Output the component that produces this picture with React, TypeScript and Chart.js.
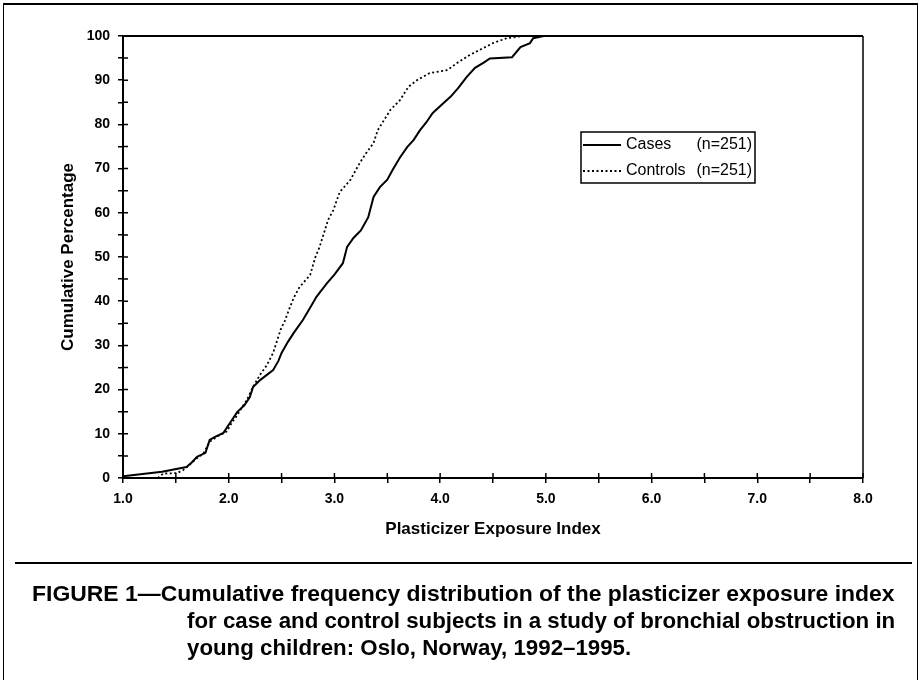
import React, { useEffect, useLayoutEffect, useRef } from "react";
import { Chart, registerables } from "chart.js";

Chart.register(...registerables);

// ---------- data ----------
const casesX = [1.0, 1.37, 1.6, 1.65, 1.7, 1.78, 1.82, 1.87, 1.95, 2.01, 2.08, 2.15, 2.2, 2.23, 2.3, 2.42, 2.47, 2.5, 2.56, 2.62, 2.7, 2.77, 2.83, 2.93, 3.0, 3.08, 3.12, 3.18, 3.25, 3.32, 3.37, 3.43, 3.5, 3.55, 3.62, 3.69, 3.75, 3.81, 3.87, 3.93, 4.03, 4.1, 4.17, 4.25, 4.33, 4.42, 4.47, 4.68, 4.76, 4.85, 4.88, 4.98, 5.3];
const casesY = [0.4, 1.4, 2.5, 3.5, 4.8, 5.7, 8.6, 9.3, 10.2, 12.4, 14.9, 16.5, 18.3, 20.6, 22.2, 24.4, 26.5, 28.3, 30.8, 33.0, 35.7, 38.5, 41.0, 44.1, 46.0, 48.6, 52.3, 54.3, 56.0, 59.0, 63.6, 65.8, 67.5, 69.7, 72.5, 74.9, 76.5, 78.7, 80.5, 82.6, 84.8, 86.3, 88.2, 90.7, 92.8, 94.1, 94.9, 95.2, 97.5, 98.4, 99.5, 100, 100];

const controlsX = [1.33, 1.38, 1.51, 1.57, 1.63, 1.7, 1.76, 1.82, 1.9, 1.98, 2.03, 2.08, 2.11, 2.17, 2.23, 2.3, 2.36, 2.42, 2.49, 2.53, 2.58, 2.62, 2.67, 2.77, 2.82, 2.86, 2.91, 2.94, 2.99, 3.05, 3.15, 3.24, 3.3, 3.37, 3.41, 3.47, 3.53, 3.62, 3.7, 3.78, 3.9, 4.07, 4.16, 4.28, 4.41, 4.5, 4.63, 4.78, 5.3];
const controlsY = [0, 1.0, 1.1, 1.8, 3.0, 4.5, 5.5, 8.2, 9.5, 10.5, 12.5, 14.2, 15.4, 17.6, 20.6, 23.5, 25.5, 28.3, 33.5, 35.5, 38.7, 41.0, 43.2, 45.9, 50.0, 52.3, 56.1, 58.4, 60.6, 64.7, 67.4, 71.3, 73.5, 75.8, 78.7, 81.0, 83.3, 85.5, 88.5, 90.0, 91.6, 92.3, 93.9, 95.7, 97.3, 98.4, 99.5, 100, 100];

const seriesNames = ["Cases", "Controls"];
const seriesCounts = ["(n=251)", "(n=251)"];
const xTitle = "Plasticizer Exposure Index";
const yTitle = "Cumulative Percentage";
const captionFirst = "FIGURE 1\u2014Cumulative frequency distribution of the plasticizer exposure index";
const captionRest = [
  "for case and control subjects in a study of bronchial obstruction in",
  "young children: Oslo, Norway, 1992\u20131995.",
];

const FONT = "'Liberation Sans', Arial, Helvetica, sans-serif";

const zip = (xs: number[], ys: number[]) => xs.map((x, i) => ({ x, y: ys[i] }));

const framePlugin = {
  id: "frameTicks",
  afterDatasetsDraw(chart: any) {
    const { ctx, chartArea } = chart;
    const xs = chart.scales.x;
    const ys = chart.scales.y;
    ctx.save();
    ctx.strokeStyle = "#000";
    ctx.lineWidth = 2;
    ctx.beginPath();
    ctx.moveTo(chartArea.left, chartArea.top);
    ctx.lineTo(chartArea.right, chartArea.top);
    ctx.stroke();
    ctx.lineWidth = 1.5;
    ctx.beginPath();
    ctx.moveTo(chartArea.right, chartArea.top);
    ctx.lineTo(chartArea.right, chartArea.bottom);
    ctx.stroke();
    ctx.beginPath();
    xs.ticks.forEach((t: any) => {
      const px = xs.getPixelForValue(t.value);
      ctx.moveTo(px, chartArea.bottom);
      ctx.lineTo(px, chartArea.bottom - 5);
    });
    ys.ticks.forEach((t: any) => {
      const py = ys.getPixelForValue(t.value);
      ctx.moveTo(chartArea.left, py);
      ctx.lineTo(chartArea.left + 5, py);
    });
    ctx.stroke();
    ctx.restore();
  },
};

const legendPlugin = {
  id: "boxLegend",
  afterDraw(chart: any) {
    const { ctx } = chart;
    const bx = 581, by = 132, bw = 174, bh = 51;
    ctx.save();
    ctx.strokeStyle = "#000";
    ctx.lineWidth = 1.5;
    ctx.strokeRect(bx, by, bw, bh);
    ctx.font = `16px ${FONT}`;
    ctx.fillStyle = "#000";
    ctx.textBaseline = "middle";
    chart.data.datasets.forEach((ds: any, i: number) => {
      const y = by + 13 + i * 26;
      ctx.beginPath();
      ctx.lineWidth = ds.borderWidth;
      ctx.setLineDash(ds.borderDash || []);
      ctx.moveTo(bx + 2, y);
      ctx.lineTo(bx + 40, y);
      ctx.stroke();
      ctx.setLineDash([]);
      ctx.textAlign = "left";
      ctx.fillText(seriesNames[i], bx + 45, y);
      ctx.textAlign = "right";
      ctx.fillText(seriesCounts[i], bx + bw - 3, y);
    });
    ctx.restore();
  },
};

export default function App() {
  const ref = useRef<HTMLCanvasElement | null>(null);
  const cap0 = useRef<HTMLDivElement | null>(null);
  const cap1 = useRef<HTMLDivElement | null>(null);
  const cap2 = useRef<HTMLDivElement | null>(null);

  useLayoutEffect(() => {
    const a = cap0.current, b = cap1.current, c = cap2.current;
    if (!a || !b || !c) return;
    const sA = 863 / a.offsetWidth;
    const sB = 708 / b.offsetWidth;
    a.style.transform = `scaleX(${sA})`;
    b.style.transform = `scaleX(${sB})`;
    c.style.transform = `scaleX(${sB})`;
  }, []);

  useEffect(() => {
    if (!ref.current) return;
    Chart.defaults.color = "#000";
    const chart = new Chart(ref.current, {
      type: "line",
      data: {
        datasets: [
          {
            label: seriesNames[0],
            data: zip(casesX, casesY),
            borderColor: "#000",
            borderWidth: 2,
            pointRadius: 0,
            tension: 0,
          },
          {
            label: seriesNames[1],
            data: zip(controlsX, controlsY),
            borderColor: "#000",
            borderWidth: 1.8,
            borderDash: [2, 2.5],
            pointRadius: 0,
            tension: 0,
          },
        ],
      },
      options: {
        animation: false,
        responsive: false,
        devicePixelRatio: 1,
        layout: { padding: { left: 0, right: 58, top: 36, bottom: 140 } },
        plugins: { legend: { display: false }, tooltip: { enabled: false } },
        scales: {
          x: {
            type: "linear",
            min: 1,
            max: 8,
            afterFit: (s: any) => {
              s.height = 62;
            },
            border: { display: true, color: "#000", width: 2 },
            grid: { display: true, drawOnChartArea: false, drawTicks: true, tickLength: 5, color: "#000", lineWidth: 1.5 },
            ticks: {
              stepSize: 0.5,
              autoSkip: false,
              maxRotation: 0,
              padding: 8,
              font: { family: FONT, size: 14, weight: "bold" },
              color: "#000",
              callback: (v: any) => (Math.abs(v - Math.round(v)) < 1e-6 ? Number(v).toFixed(1) : ""),
            },
            title: {
              display: true,
              text: xTitle,
              color: "#000",
              font: { family: FONT, size: 17, weight: "bold" },
              padding: { top: 0, bottom: 0 },
            },
          },
          y: {
            min: 0,
            max: 100,
            afterFit: (s: any) => {
              s.width = 123;
            },
            border: { display: true, color: "#000", width: 2 },
            grid: { display: true, drawOnChartArea: false, drawTicks: true, tickLength: 5, color: "#000", lineWidth: 1.5 },
            ticks: {
              stepSize: 5,
              autoSkip: false,
              padding: 8,
              font: { family: FONT, size: 14, weight: "bold" },
              color: "#000",
              callback: (v: any) => (v % 10 === 0 ? String(v) : ""),
            },
            title: {
              display: true,
              text: yTitle,
              color: "#000",
              font: { family: FONT, size: 17, weight: "bold" },
              padding: { top: 58, bottom: 0 },
            },
          },
        },
      },
      plugins: [framePlugin, legendPlugin],
    } as any);
    return () => chart.destroy();
  }, []);

  const capStyle: React.CSSProperties = {
    position: "absolute",
    whiteSpace: "nowrap",
    fontFamily: FONT,
    fontWeight: "bold",
    fontSize: 22,
    lineHeight: "27px",
    color: "#000",
    transformOrigin: "0 50%",
  };

  return (
    <div style={{ position: "absolute", left: 0, top: 0, width: 921, height: 680, overflow: "hidden", background: "#fff" }}>
      <canvas ref={ref} width={921} height={680} style={{ position: "absolute", left: 0, top: 0, width: 921, height: 680 }} />
      <div style={{ position: "absolute", left: 3, top: 3, width: 913, height: 700, borderTop: "2px solid #000", borderLeft: "1.5px solid #000", borderRight: "1.5px solid #000" }} />
      <div style={{ position: "absolute", left: 15, top: 562, width: 897, height: 0, borderTop: "2px solid #000" }} />
      <div ref={cap0} style={{ ...capStyle, left: 32, top: 580 }}>{captionFirst}</div>
      <div ref={cap1} style={{ ...capStyle, left: 187, top: 607 }}>{captionRest[0]}</div>
      <div ref={cap2} style={{ ...capStyle, left: 187, top: 634 }}>{captionRest[1]}</div>
    </div>
  );
}
